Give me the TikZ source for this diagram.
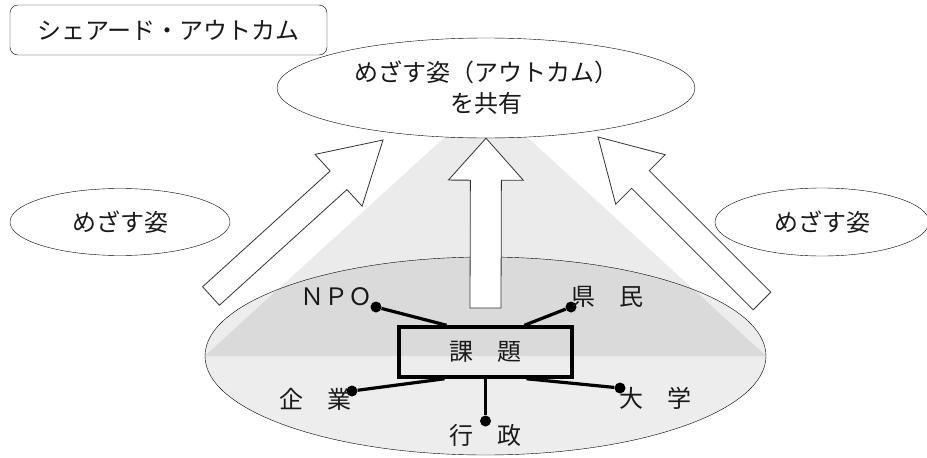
\documentclass[tikz,border=0pt]{standalone}
\usepackage{fontspec}
\setmainfont{Noto Sans CJK JP}
\usetikzlibrary{shapes.geometric,calc}
\tikzset{
    every node/.style={align=center,font=\fontsize{24}{31}\selectfont,text=black!90},
    bubble/.style={draw,ellipse,fill=white,inner sep=0pt},
    titlebox/.style={draw,rectangle,rounded corners=8pt,minimum width=317pt,minimum height=50pt},
    issuebox/.style={draw,rectangle,line width=3.5pt,minimum width=173pt,minimum height=50pt,inner sep=0pt},
    dot/.style={circle,fill=black,inner sep=0pt,minimum size=11pt},
    link/.style={line width=3.2pt},
    blockarrow/.style={draw=black!80,fill=white,line width=0.8pt},
    spotlight/.style={fill=black,fill opacity=0.08},
}
% tail, tip, half shaft, half head, head length
\newcommand{\bigarrow}[5]{%
    \coordinate (ba-base) at ($(#2)!#5!(#1)$);
    \draw[blockarrow] ($(#1)!#3!90:(#2)$) -- ($(ba-base)!#3!-90:(#1)$)
        -- ($(ba-base)!#4!-90:(#1)$) -- (#2) -- ($(ba-base)!#4!90:(#1)$)
        -- ($(ba-base)!#3!90:(#1)$) -- ($(#1)!#3!-90:(#2)$) -- cycle;
}

\begin{document}
\begin{tikzpicture}[x=1pt,y=1pt]
    \useasboundingbox (0,0) rectangle (927,-458);

    \node[draw,ellipse,fill=black!7,inner sep=0pt,minimum width=561pt,minimum height=198pt] (field) at (485.5,-356) {};
    \node[bubble,minimum width=418pt,minimum height=100pt] (goal) at (486,-88) {めざす姿（アウトカム）\\を共有};
    \fill[spotlight] (field.west) -- (goal.230) -- (goal.310) -- (field.east) -- cycle;

    \node[titlebox] (title) at (168.5,-30) {シェアード・アウトカム};
    \node[bubble,minimum width=220pt,minimum height=67pt] (left-goal) at (120,-222) {めざす姿};
    \node[bubble,minimum width=214pt,minimum height=68pt] (right-goal) at (822,-222) {めざす姿};

    % big arrows
    \coordinate (left-tail) at (211,-296);
    \coordinate (left-tip) at (383,-140);
    \coordinate (mid-tail) at (485.5,-308);
    \coordinate (right-tail) at (762,-301);
    \coordinate (right-tip) at (598,-137);
    \bigarrow{left-tail}{left-tip}{12.5pt}{35pt}{60pt}
    \bigarrow{mid-tail}{goal.south}{15.5pt}{37.5pt}{42pt}
    \bigarrow{right-tail}{right-tip}{12.5pt}{35pt}{60pt}

    \node[issuebox] (issue) at (485.5,-352) {課　題};

    \node[dot] (npo-dot) at (376,-307) {};
    \node[dot] (citizen-dot) at (571,-307) {};
    \node[dot] (company-dot) at (352,-391) {};
    \node[dot] (univ-dot) at (620,-388) {};
    \node[dot] (gov-dot) at (485.5,-421) {};

    \draw[link] (npo-dot) -- ([xshift=-39pt]issue.north);
    \draw[link] (citizen-dot) -- ([xshift=39pt]issue.north);
    \draw[link] (company-dot) -- ([xshift=-41pt]issue.south);
    \draw[link] (univ-dot) -- ([xshift=41pt]issue.south);
    \draw[link] (gov-dot) -- (issue.south);

    \node (npo) at (336,-297) {ＮＰＯ};
    \node (citizen) at (607,-297) {県　民};
    \node (company) at (315,-399) {企　業};
    \node (univ) at (655,-398) {大　学};
    \node (gov) at (485.5,-435) {行　政};
\end{tikzpicture}
\end{document}
